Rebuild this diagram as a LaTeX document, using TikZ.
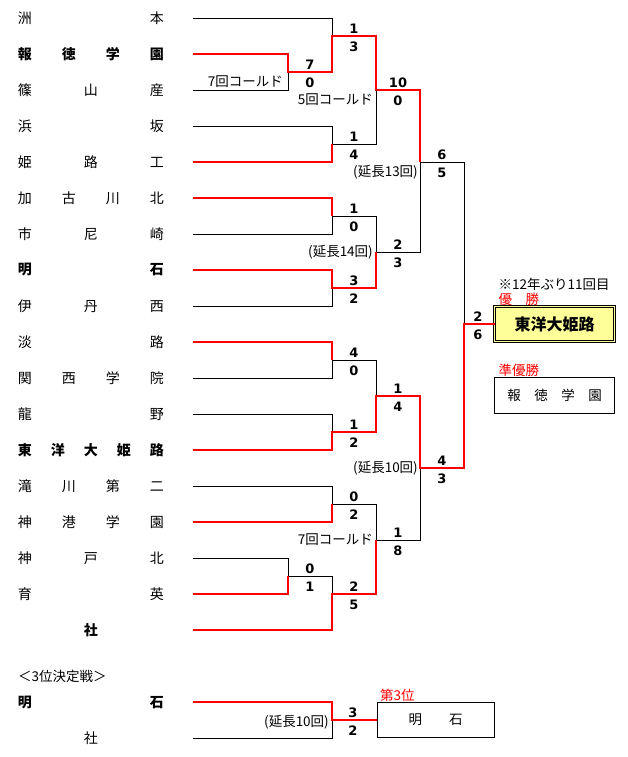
\documentclass[tikz,border=0pt]{standalone}
\usepackage{fontspec}
\setmainfont{DejaVu Sans}
\newfontfamily\jp{Noto Sans CJK JP}
\usetikzlibrary{positioning}
\definecolor{bkred}{HTML}{FF0000}
\definecolor{bkyellow}{HTML}{FFFF99}
\newcommand\spread[1]{\hbox to 146pt{#1}}
\newcommand\res[4][22]{%
  \node[sc] (#2a) at ([shift={(#1,-7)}]#2) {#3};
  \node[sc] (#2b) at ([shift={(#1,11)}]#2) {#4};}
\tikzset{
  team/.style={inner sep=0pt,font=\jp\fontsize{14}{14}\selectfont},
  bteam/.style={team,font=\jp\bfseries\fontsize{14}{14}\selectfont},
  note/.style={inner sep=0pt,font=\jp\fontsize{13.5}{14}\selectfont},
  prize/.style={note,text=bkred},
  sc/.style={inner sep=0pt,font=\bfseries\fontsize{13}{13}\selectfont},
  lose/.style={draw=black,line width=0.9pt},
  win/.style={draw=bkred,line width=2pt,line join=miter},
  champ/.style={draw=black,line width=0.9pt,double=bkyellow,double distance=1.3pt,
                fill=bkyellow,minimum width=120pt,minimum height=35pt,inner sep=0pt,
                outer sep=0pt,font=\jp\bfseries\fontsize{16}{16}\selectfont},
  board/.style={draw=black,line width=0.9pt,inner sep=0pt,outer sep=0pt,
                font=\jp\fontsize{13.5}{14}\selectfont},
}
\begin{document}
\begin{tikzpicture}[x=1pt,y=-1pt]
  \useasboundingbox[fill=white] (0,0) rectangle (628,757);
  % line ends of the draw
  \foreach \i in {1,...,18} \coordinate (p\i) at (193,{36*\i-18});
  \coordinate (q1) at (193,702);
  \coordinate (q2) at (193,738);
  % schools
  \node[team,left=29pt of p1] (sumoto) {\spread{洲\hfill 本}};
  \node[bteam,left=29pt of p2] (hotoku) {\spread{報\hfill 徳\hfill 学\hfill 園}};
  \node[team,left=29pt of p3] (sasayama) {\spread{篠\hfill 山\hfill 産}};
  \node[team,left=29pt of p4] (hamasaka) {\spread{浜\hfill 坂}};
  \node[team,left=29pt of p5] (himejiko) {\spread{姫\hfill 路\hfill 工}};
  \node[team,left=29pt of p6] (kakokita) {\spread{加\hfill 古\hfill 川\hfill 北}};
  \node[team,left=29pt of p7] (ichiama) {\spread{市\hfill 尼\hfill 崎}};
  \node[bteam,left=29pt of p8] (akashi) {\spread{明\hfill 石}};
  \node[team,left=29pt of p9] (itaminishi) {\spread{伊\hfill 丹\hfill 西}};
  \node[team,left=29pt of p10] (awaji) {\spread{淡\hfill 路}};
  \node[team,left=29pt of p11] (kangaku) {\spread{関\hfill 西\hfill 学\hfill 院}};
  \node[team,left=29pt of p12] (tatsuno) {\spread{龍\hfill 野}};
  \node[bteam,left=29pt of p13] (toyo) {\spread{東\hfill 洋\hfill 大\hfill 姫\hfill 路}};
  \node[team,left=29pt of p14] (takigawa) {\spread{滝\hfill 川\hfill 第\hfill 二}};
  \node[team,left=29pt of p15] (shinko) {\spread{神\hfill 港\hfill 学\hfill 園}};
  \node[team,left=29pt of p16] (kobekita) {\spread{神\hfill 戸\hfill 北}};
  \node[team,left=29pt of p17] (ikuei) {\spread{育\hfill 英}};
  \node[bteam,left=29pt of p18] (yashiro) {\spread{\hfil 社\hfil}};
  \node[note,anchor=west] (third-t) at (18,676) {＜3位決定戦＞};
  \node[bteam,left=29pt of q1] (akashi3) {\spread{明\hfill 石}};
  \node[team,left=29pt of q2] (yashiro3) {\spread{\hfil 社\hfil}};
  % games
  \coordinate (m1) at (288,72);
  \coordinate (m2) at (332,36);
  \coordinate (m3) at (332,144);
  \coordinate (m4) at (376,90);
  \coordinate (m5) at (332,216);
  \coordinate (m6) at (332,288);
  \coordinate (m7) at (376,252);
  \coordinate (m8) at (420,162);
  \coordinate (m9) at (332,360);
  \coordinate (m10) at (332,432);
  \coordinate (m11) at (376,396);
  \coordinate (m12) at (332,504);
  \coordinate (m13) at (288,576);
  \coordinate (m14) at (332,594);
  \coordinate (m15) at (376,540);
  \coordinate (m16) at (420,468);
  \coordinate (m17) at (464,324);
  \coordinate (m18) at (332,720);
  % result boxes
  \node[champ] (champ) at (554.5,324) {東洋大姫路};
  \node[board,minimum width=120pt,minimum height=36pt,below=36pt of champ] (runner) {報　徳　学　園};
  \node[board,minimum width=117pt,minimum height=35pt] (third) at (435.5,720) {明　　石};
  \node[prize,above right=1pt and 4pt of champ.north west] (win) {優　勝};
  \node[note,above right=2pt and 0pt of win.north west] (times) {※12年ぶり11回目};
  \node[prize,above right=1pt and 4pt of runner.north west] (second) {準優勝};
  \node[prize,above right=1pt and 3pt of third.north west] (bronze) {第3位};
  % losers
  \draw[lose] (p1) -| (m2);
  \draw[lose] (p3) -| (m1);
  \draw[lose] (p4) -| (m3);
  \draw[lose] (m3) -| (m4);
  \draw[lose] (p7) -| (m5);
  \draw[lose] (m5) -| (m7);
  \draw[lose] (p9) -| (m6);
  \draw[lose] (m7) -| (m8);
  \draw[lose] (p11) -| (m9);
  \draw[lose] (p12) -| (m10);
  \draw[lose] (m9) -| (m11);
  \draw[lose] (p14) -| (m12);
  \draw[lose] (p16) -| (m13);
  \draw[lose] (m13) -| (m14);
  \draw[lose] (m12) -| (m15);
  \draw[lose] (m15) -| (m16);
  \draw[lose] (m8) -| (m17);
  \draw[lose] (q2) -| (m18);
  % winners
  \draw[win] (p2) -| (m1) -| (m2) -| (m4) -| (m8);
  \draw[win] (p5) -| (m3);
  \draw[win] (p6) -| (m5);
  \draw[win] (p8) -| (m6) -| (m7);
  \draw[win] (p10) -| (m9);
  \draw[win] (p13) -| (m10) -| (m11) -| (m16) -| (m17) -- (champ.west);
  \draw[win] (p15) -| (m12);
  \draw[win] (p17) -| (m13);
  \draw[win] (p18) -| (m14) -| (m15);
  \draw[win] (q1) -| (m18) -- (third.west);
  % scores
  \res{m1}{7}{0}
  \res{m2}{1}{3}
  \res{m3}{1}{4}
  \res{m4}{10}{0}
  \res{m5}{1}{0}
  \res{m6}{3}{2}
  \res{m7}{2}{3}
  \res{m8}{6}{5}
  \res{m9}{4}{0}
  \res{m10}{1}{2}
  \res{m11}{1}{4}
  \res{m12}{0}{2}
  \res{m13}{0}{1}
  \res{m14}{2}{5}
  \res{m15}{1}{8}
  \res{m16}{4}{3}
  \res[14]{m17}{2}{6}
  \res[21]{m18}{3}{2}
  % remarks
  \node[note,left=5pt of m1,yshift=-10pt] (c1) {7回コールド};
  \node[note,left=3pt of m4,yshift=-10pt] (c2) {5回コールド};
  \node[note,left=2pt of m8,yshift=-10pt] (e1) {(延長13回)};
  \node[note,left=3pt of m7] (e2) {(延長14回)};
  \node[note,left=2pt of m16] (e3) {(延長10回)};
  \node[note,left=3pt of m15] (c3) {7回コールド};
  \node[note,left=3pt of m18,yshift=-2pt] (e4) {(延長10回)};
\end{tikzpicture}
\end{document}
